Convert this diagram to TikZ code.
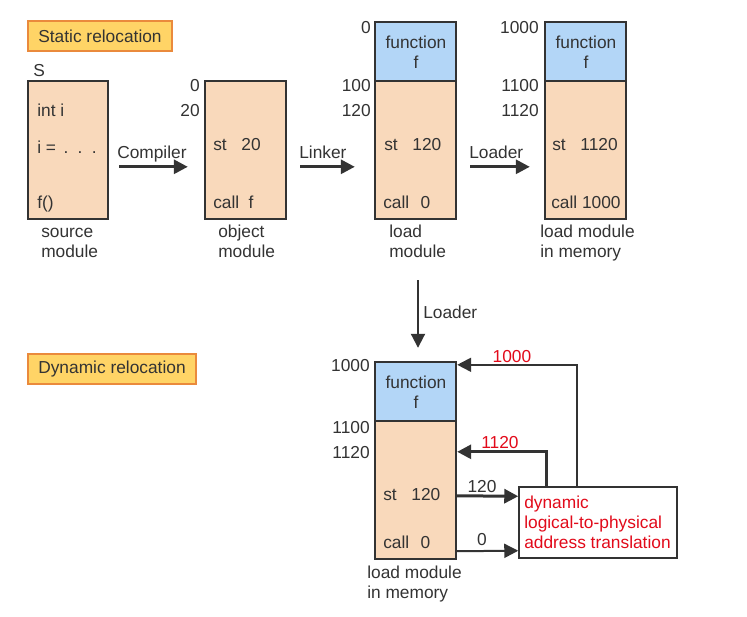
\documentclass[tikz,border=0pt]{standalone}
\usepackage{fontspec}
\setmainfont{Liberation Sans}
\usetikzlibrary{arrows.meta,calc,fit}
\definecolor{dark}{HTML}{333333}
\definecolor{peach}{HTML}{F9D9BB}
\definecolor{fblue}{HTML}{B3D6F7}
\definecolor{tyellow}{HTML}{FFD466}
\definecolor{torange}{HTML}{EA8A3C}
\definecolor{tred}{RGB}{226,10,26}
\tikzset{
  every node/.style={font=\fontsize{13}{15}\selectfont, text=dark},
  modbox/.style={draw=dark, line width=1.8pt, fill=peach, inner sep=0pt},
  funbox/.style={draw=dark, line width=1.8pt, fill=fblue, inner sep=0pt},
  titlebox/.style={draw=torange, line width=1.5pt, fill=tyellow, inner sep=0pt,
    minimum height=22.5pt},
  lbl/.style={inner sep=0pt, text height=9.3pt, text depth=0pt, anchor=west},
  rlbl/.style={lbl, anchor=east},
  clbl/.style={lbl, anchor=center},
  redlbl/.style={lbl, text=tred},
  bigarr/.style={draw=dark, line width=2.25pt, -{Triangle[length=10.5pt,width=10.5pt]}},
  thinarr/.style={draw=dark, line width=1.5pt, -{Triangle[length=10.5pt,width=10.5pt]}},
  transbox/.style={draw=dark, line width=1.1pt, fill=white, inner sep=0pt},
}
\begin{document}
\begin{tikzpicture}[x=0.75pt,y=-0.75pt]
\useasboundingbox (0,0) rectangle (747,617);

% titles
\node[titlebox, minimum width=108pt] (tstat) at (100,36) {Static relocation};
\node[titlebox, minimum width=126pt] (tdyn) at (112,369) {Dynamic relocation};

% source module
\node[lbl] (sS) at (33,70) {S};
\node[modbox, fit={(28,81) (108,219)}] (src) {};
\node[lbl] (s1) at (37,110) {int i};
\node[lbl] (s2) at (37,147) {i = \hspace{2pt}.\hspace{7pt}.\hspace{7pt}.};
\node[lbl] (s3) at (37,202) {f()};
\node[lbl] (sl1) at (41,231) {source};
\node[lbl] (sl2) at (41,251) {module};

% object module
\node[modbox, fit={(205,81) (286,219)}] (obj) {};
\node[rlbl] (o0) at (200,85) {0};
\node[rlbl] (o20) at (200,110) {20};
\node[lbl] (o1) at (213,144) {st\hspace{11pt}20};
\node[lbl] (o2) at (213,202) {call\hspace{7pt}f};
\node[lbl] (ol1) at (218,231) {object};
\node[lbl] (ol2) at (218,251) {module};

% load module
\node[funbox, fit={(375,22) (456,81)}] (lmf) {};
\node[modbox, fit={(375,81) (456,219)}] (lmb) {};
\node[rlbl] (l0) at (371,27) {0};
\node[rlbl] (l100) at (371,85) {100};
\node[rlbl] (l120) at (371,110) {120};
\node[clbl] (lf1) at (416,42) {function};
\node[clbl] (lf2) at (416,62) {f};
\node[lbl] (l1) at (384,144) {st\hspace{11pt}120};
\node[lbl] (l2) at (383,202) {call\hspace{8.5pt}0};
\node[lbl] (ll1) at (389,231) {load};
\node[lbl] (ll2) at (389,251) {module};

% load module in memory
\node[funbox, fit={(545,22) (626,81)}] (mf) {};
\node[modbox, fit={(545,81) (626,219)}] (mb) {};
\node[rlbl] (m1000) at (539,27) {1000};
\node[rlbl] (m1100) at (539,85) {1100};
\node[rlbl] (m1120) at (539,110) {1120};
\node[clbl] (mf1) at (586,42) {function};
\node[clbl] (mf2) at (586,62) {f};
\node[lbl] (m1) at (552,144) {st\hspace{11pt}1120};
\node[lbl] (m2) at (551,202) {call 1000};
\node[lbl] (ml1) at (540,231) {load module};
\node[lbl] (ml2) at (540,251) {in memory};

% top arrows
\draw[bigarr] ($(src.north east)+(10,87)$) -- ($(obj.north west)+(-16,87)$);
\node[lbl] (cmp) at (117,152) {Compiler};
\draw[bigarr] ($(obj.north east)+(13,87)$) -- ($(lmb.north west)+(-19,87)$);
\node[lbl] (lnk) at (299,152) {Linker};
\draw[bigarr] ($(lmb.north east)+(13,87)$) -- ($(mb.north west)+(-14,87)$);
\node[lbl] (ldr) at (469,152) {Loader};

% dynamic load module
\node[funbox, fit={(375,362) (456,421)}] (df) {};
\node[modbox, fit={(375,421) (456,559)}] (db) {};
\node[rlbl] (d1000) at (370,365) {1000};
\node[rlbl] (d1100) at (370,427) {1100};
\node[rlbl] (d1120) at (370,452) {1120};
\node[clbl] (df1) at (416,382) {function};
\node[clbl] (df2) at (416,402) {f};
\node[lbl] (d1) at (383,494) {st\hspace{11pt}120};
\node[lbl] (d2) at (383,542) {call\hspace{8.5pt}0};
\node[lbl] (dl1) at (367,572) {load module};
\node[lbl] (dl2) at (367,592) {in memory};

% down loader arrow
\draw[thinarr] ($(lmb.south)+(2.5,60)$) -- ($(df.north)+(2.5,-13)$);
\node[lbl] (ldr2) at (423,312) {Loader};

% translation box
\node[transbox, fit={(519,487) (677,558)}] (tb) {};
\node[redlbl] (t1) at (524,502) {dynamic};
\node[redlbl] (t2) at (524,522) {logical-to-physical};
\node[redlbl] (t3) at (524,542) {address translation};

% dynamic arrows
\draw[thinarr] ($(tb.north west)+(59,0)$) |- ($(df.north east)+(0,4)$);
\draw[bigarr] ($(tb.north west)+(28,0)$) |- ($(db.north east)+(0,32)$);
\draw[bigarr] ($(db.north east)+(0,76)$) -- ($(tb.north west)+(0,10)$);
\draw[thinarr] ($(db.south east)+(0,-9)$) -- ($(tb.south west)+(0,-8)$);
\node[redlbl, anchor=center] (a1000) at (512,356) {1000};
\node[redlbl, anchor=center] (a1120) at (500,442) {1120};
\node[clbl] (a120) at (482,486) {120};
\node[clbl] (a0) at (482,539) {0};
\end{tikzpicture}
\end{document}
